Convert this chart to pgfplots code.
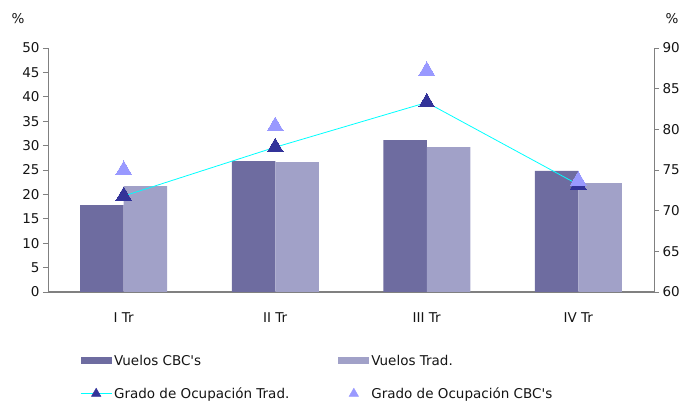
\documentclass[border=0pt]{standalone}
\usepackage{fontspec}
\setmainfont{DejaVu Sans}
\usepackage{pgfplots}
\pgfplotsset{compat=1.18}
\usetikzlibrary{calc}

\definecolor{cbcbar}{RGB}{110,108,160}
\definecolor{tradbar}{RGB}{161,161,200}
\definecolor{darktri}{RGB}{51,51,153}
\definecolor{lighttri}{RGB}{153,153,255}
\definecolor{axgray}{RGB}{128,128,128}
\definecolor{linecyan}{RGB}{0,255,255}
\definecolor{txt}{RGB}{20,20,20}

\begin{document}
\begin{tikzpicture}[font=\fontsize{13.5}{16}\selectfont, text=txt]
\pgfplotsset{
  base/.style={
    scale only axis, width=606pt, height=244pt,
    xmin=0, xmax=4,
    clip mode=individual,
    tick align=outside, major tick length=5pt,
    tick style={axgray, line width=0.8pt},
    axis line style={axgray, line width=0.8pt},
    /pgf/number format/assume math mode=true,
    ticklabel style={font=\fontsize{13.5}{16}\selectfont},
  }
}
\begin{axis}[base, name=ax,
  ymin=0, ymax=50, ytick={0,5,...,50},
  axis y line*=left, axis x line*=bottom,
  x axis line style={line width=1.6pt},
  xtick={0.5,1.5,2.5,3.5},
  xticklabels={I Tr, II Tr, III Tr, IV Tr},
  xtick style={draw=none},
  xticklabel style={yshift=-12pt},
  ybar=0pt, bar width=43.5pt,
  legend columns=2,
  legend cell align=left,
  legend style={at={(axis description cs:0.048,-0.24)}, anchor=north west,
    draw=none, fill=none, row sep=17pt,
    /tikz/column 2/.style={column sep=47pt}},
]
\addplot[draw=none, fill=cbcbar,
  legend image code/.code={\fill[cbcbar] (0pt,-3.5pt) rectangle (31pt,3.5pt);}]
  coordinates {(0.5,17.8) (1.5,26.8) (2.5,31.1) (3.5,24.8)};
\addlegendentry{Vuelos CBC\textquotesingle s}
\addplot[draw=none, fill=tradbar,
  legend image code/.code={\fill[tradbar] (0pt,-3.5pt) rectangle (31pt,3.5pt);}]
  coordinates {(0.5,21.7) (1.5,26.6) (2.5,29.7) (3.5,22.3)};
\addlegendentry{Vuelos Trad.}
\addlegendimage{legend image code/.code={
  \draw[linecyan, line width=0.8pt] (0pt,0pt) -- (31pt,0pt);
  \fill[darktri] (15.5pt,0pt) ++(90:5.5pt) -- ++(-120:9.5pt) -- ++(0:9.5pt) -- cycle;}}
\addlegendentry{Grado de Ocupación Trad.}
\addlegendimage{legend image code/.code={
  \fill[lighttri] (15.5pt,0pt) ++(90:5.5pt) -- ++(-120:9.5pt) -- ++(0:9.5pt) -- cycle;}}
\addlegendentry{Grado de Ocupación CBC\textquotesingle s}
\node[anchor=center] at (axis description cs:-0.0495,1.12) {\%};
\end{axis}
\begin{axis}[base,
  ymin=60, ymax=90, ytick={60,65,...,90},
  axis y line*=right, axis x line=none,
]
\addplot[linecyan, line width=0.8pt, mark=triangle*, mark size=9pt,
  mark options={fill=darktri, draw=darktri, line width=0pt}]
  coordinates {(0.5,71.8) (1.5,77.8) (2.5,83.3) (3.5,73.2)};
\addplot[only marks, mark=triangle*, mark size=9pt,
  mark options={fill=lighttri, draw=lighttri, line width=0pt}]
  coordinates {(0.5,75.0) (1.5,80.4) (2.5,87.2) (3.5,73.7)};
\node[anchor=center] at (axis description cs:1.0297,1.12) {\%};
\end{axis}
\pgfresetboundingbox
\useasboundingbox ($(ax.south west)+(-48pt,-109pt)$) rectangle ($(ax.north east)+(35pt,48pt)$);
\end{tikzpicture}
\end{document}
